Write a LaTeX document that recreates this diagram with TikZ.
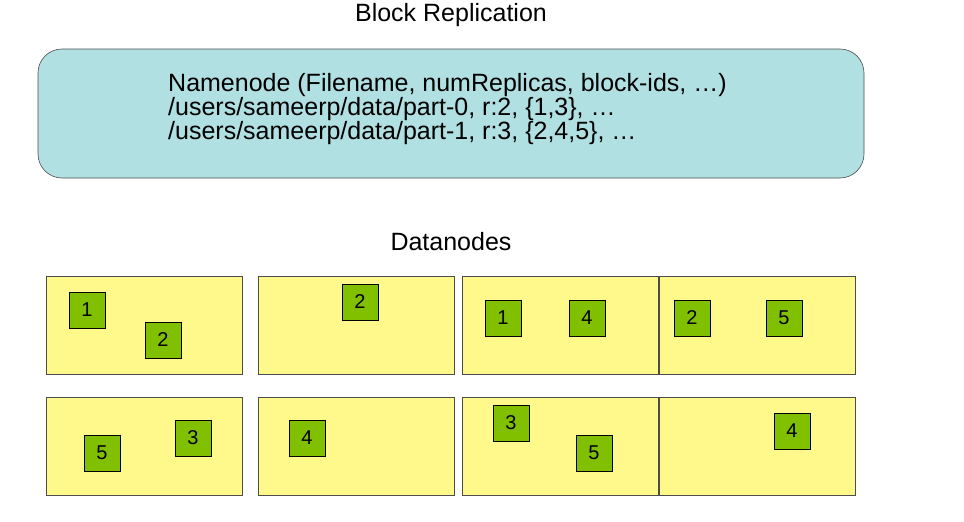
\documentclass[tikz,border=0pt]{standalone}
\usepackage{fontspec}
\setmainfont{Liberation Sans}
\begin{document}
\begin{tikzpicture}[x=1pt,y=-1pt,
  dn/.style={draw=black!70,fill=yellow!45,line width=0.6pt,minimum width=196pt,minimum height=98pt,inner sep=0pt},
  blk/.style={draw=black,fill={rgb,255:red,128;green,192;blue,0},line width=0.6pt,minimum size=36pt,inner sep=0pt,font=\fontsize{20}{22}\selectfont},
  lbl/.style={font=\fontsize{25}{28}\selectfont}]
\useasboundingbox (0,0) rectangle (964,522);
\node[lbl] (title) at (451,15) {Block Replication};
\node[draw=black!70,fill={rgb,255:red,176;green,224;blue,226},rounded corners=24pt,line width=0.6pt,minimum width=826pt,minimum height=129pt] (nn) at (451,113.5) {};
\node[align=left,anchor=west,inner sep=0pt,font=\fontsize{25}{24}\selectfont] (nntext) at (168,109) {Namenode (Filename, numReplicas, block-ids, \dots)\\/users/sameerp/data/part-0, r:2, \{1,3\}, \dots\\/users/sameerp/data/part-1, r:3, \{2,4,5\}, \dots};
\node[lbl] (dtitle) at (451,242) {Datanodes};
\node[dn] (d1) at (144.5,325) {};
\node[dn] (d2) at (356,325) {};
\node[dn] (d3) at (560,325) {};
\node[dn] (d4) at (757.5,325) {};
\node[dn] (d5) at (144.5,446) {};
\node[dn] (d6) at (356,446) {};
\node[dn] (d7) at (560,446) {};
\node[dn] (d8) at (757.5,446) {};
\node[blk] (b1) at (87,310) {1};
\node[blk] (b2) at (163,340) {2};
\node[blk] (b3) at (360,302) {2};
\node[blk] (b4) at (503,318) {1};
\node[blk] (b5) at (587,318) {4};
\node[blk] (b6) at (692,318) {2};
\node[blk] (b7) at (784,318) {5};
\node[blk] (b8) at (102,453) {5};
\node[blk] (b9) at (193,438) {3};
\node[blk] (b10) at (307,438) {4};
\node[blk] (b11) at (511,423) {3};
\node[blk] (b12) at (594,453) {5};
\node[blk] (b13) at (792,431) {4};
\end{tikzpicture}
\end{document}
